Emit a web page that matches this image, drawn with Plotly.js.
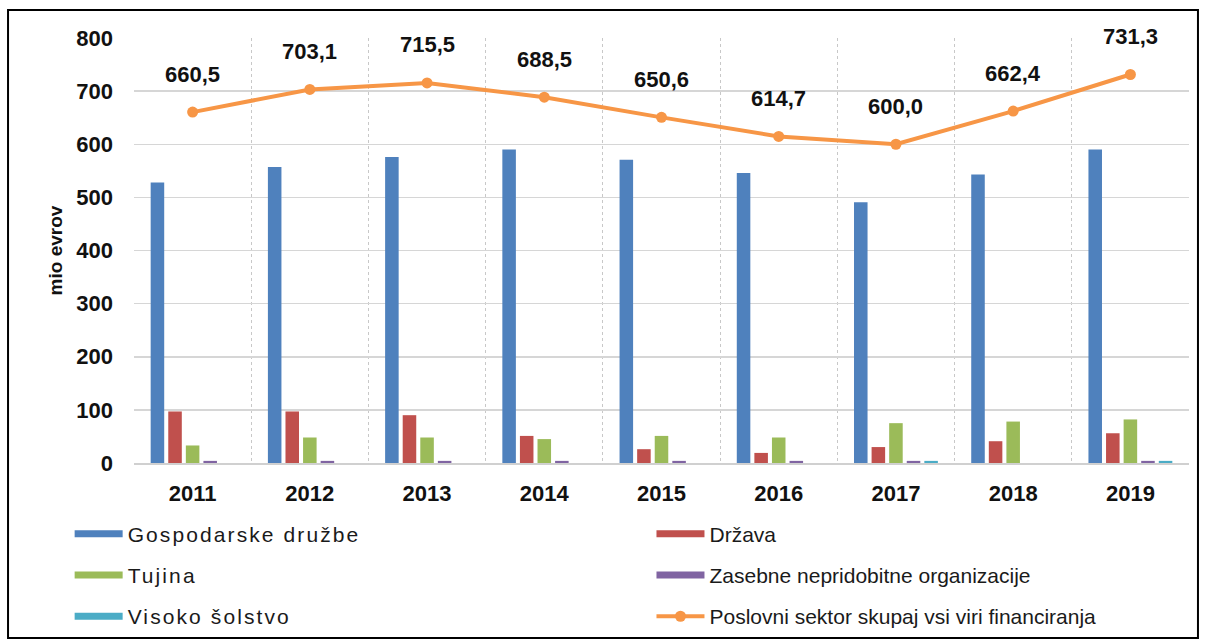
<!DOCTYPE html>
<html>
<head>
<meta charset="utf-8">
<script src="https://cdn.plot.ly/plotly-3.0.1.min.js"></script>
<style>
  html, body { margin: 0; padding: 0; background: #fff; }
  #chart { width: 1206px; height: 644px; }
  /* legend text in the original is set quite loosely (global so Plotly measures it too) */
  .legendtext { letter-spacing: 2.1px; }
</style>
</head>
<body>
<div id="chart"></div>
<script>
const years = ["2011", "2012", "2013", "2014", "2015", "2016", "2017", "2018", "2019"];

// mio evrov
const gospodarske = [528, 557, 576, 590, 571, 546, 491, 543, 590];
const drzava = [97, 97, 90, 51, 26, 19, 30, 41, 56];
const tujina = [33, 48, 48, 45, 51, 48, 75, 78, 82];
const zasebne = [4, 4, 4, 4, 4, 4, 4, null, 4];
const visoko = [null, null, null, null, null, null, 4, null, 4];
const skupaj = [660.5, 703.1, 715.5, 688.5, 650.6, 614.7, 600.0, 662.4, 731.3];

const FONT = "Liberation Sans, Arial, sans-serif";

// legend = left column, legend2 = right column
const barSeries = [
  { name: "Gospodarske družbe", y: gospodarske, color: "#4F81BD", legend: "legend" },
  { name: "Država", y: drzava, color: "#C0504D", legend: "legend2" },
  { name: "Tujina", y: tujina, color: "#9BBB59", legend: "legend" },
  { name: "Zasebne nepridobitne organizacije", y: zasebne, color: "#8064A2", legend: "legend2" },
  { name: "Visoko šolstvo", y: visoko, color: "#4BACC6", legend: "legend" },
];

const traces = [];
barSeries.forEach((s, i) => {
  traces.push({
    type: "bar",
    x: years,
    y: s.y,
    name: s.name,
    legendgroup: "g" + i,
    showlegend: false,
    marker: { color: s.color },
    hoverinfo: "x+y+name",
  });
});

// flat bar swatches for the legend (no visible points)
barSeries.forEach((s, i) => {
  traces.push({
    type: "scatter",
    mode: "lines",
    x: [years[0]],
    y: [null],
    name: s.name,
    legendgroup: "g" + i,
    legend: s.legend,
    line: { color: s.color, width: 7 },
    hoverinfo: "skip",
  });
});

traces.push({
  type: "scatter",
  mode: "lines+markers",
  x: years,
  y: skupaj,
  name: "Poslovni sektor skupaj vsi viri financiranja",
  legendgroup: "total",
  legend: "legend2",
  line: { color: "#F79646", width: 4 },
  marker: { color: "#F79646", size: 11 },
});

// category axis: place labels by index so "2011" is not read as a number
const labels = skupaj.map((v, i) => ({
  x: i,
  y: v,
  text: v.toFixed(1).replace(".", ","),
  showarrow: false,
  yshift: 38,
  font: { family: FONT, size: 22, color: "#111", weight: "bold" },
}));

const legendBase = {
  orientation: "v",
  xanchor: "left",
  yanchor: "middle",
  y: -0.2635,
  itemwidth: 48,
  tracegroupgap: 11,
  font: { family: FONT, size: 21, color: "#1a1a1a" },
  bgcolor: "rgba(0,0,0,0)",
  itemclick: false,
};

const layout = {
  width: 1206,
  height: 644,
  margin: { l: 134, r: 17, t: 38, b: 181, autoexpand: false },
  paper_bgcolor: "#fff",
  plot_bgcolor: "#fff",
  barmode: "group",
  bargap: 0.25,
  bargroupgap: 0.23,
  font: { family: FONT, color: "#111" },
  xaxis: {
    type: "category",
    categoryorder: "array",
    categoryarray: years,
    range: [-0.5, years.length - 0.5],
    tickson: "boundaries",
    showgrid: true,
    gridcolor: "#c8c8c8",
    griddash: "dot",
    gridwidth: 1,
    ticks: "",
    tickangle: 0,
    showline: true,
    linecolor: "#d0d0d0",
    linewidth: 2,
    tickfont: { family: FONT, size: 22, color: "#111", weight: "bold" },
    ticklabelstandoff: 10,
  },
  yaxis: {
    range: [0, 800],
    dtick: 100,
    showgrid: true,
    gridcolor: "#d6d6d6",
    gridwidth: 1.5,
    zeroline: false,
    ticks: "",
    tickfont: { family: FONT, size: 22, color: "#111", weight: "bold" },
    ticklabelstandoff: 20,
    title: { text: "mio evrov", font: { family: FONT, size: 19, color: "#111", weight: "bold" }, standoff: 8 },
  },
  legend: Object.assign({}, legendBase, { x: -0.061 }),
  legend2: Object.assign({}, legendBase, { x: 0.4905 }),
  annotations: labels,
  shapes: [{
    type: "rect",
    xref: "paper", yref: "paper",
    x0: -0.1194, x1: 1.0085, y0: -0.4118, y1: 1.0659,
    line: { color: "#000", width: 2 },
    fillcolor: "rgba(0,0,0,0)",
    layer: "below",
  }],
  showlegend: true,
};

Plotly.newPlot("chart", traces, layout, { staticPlot: true, displayModeBar: false });
</script>
</body>
</html>
